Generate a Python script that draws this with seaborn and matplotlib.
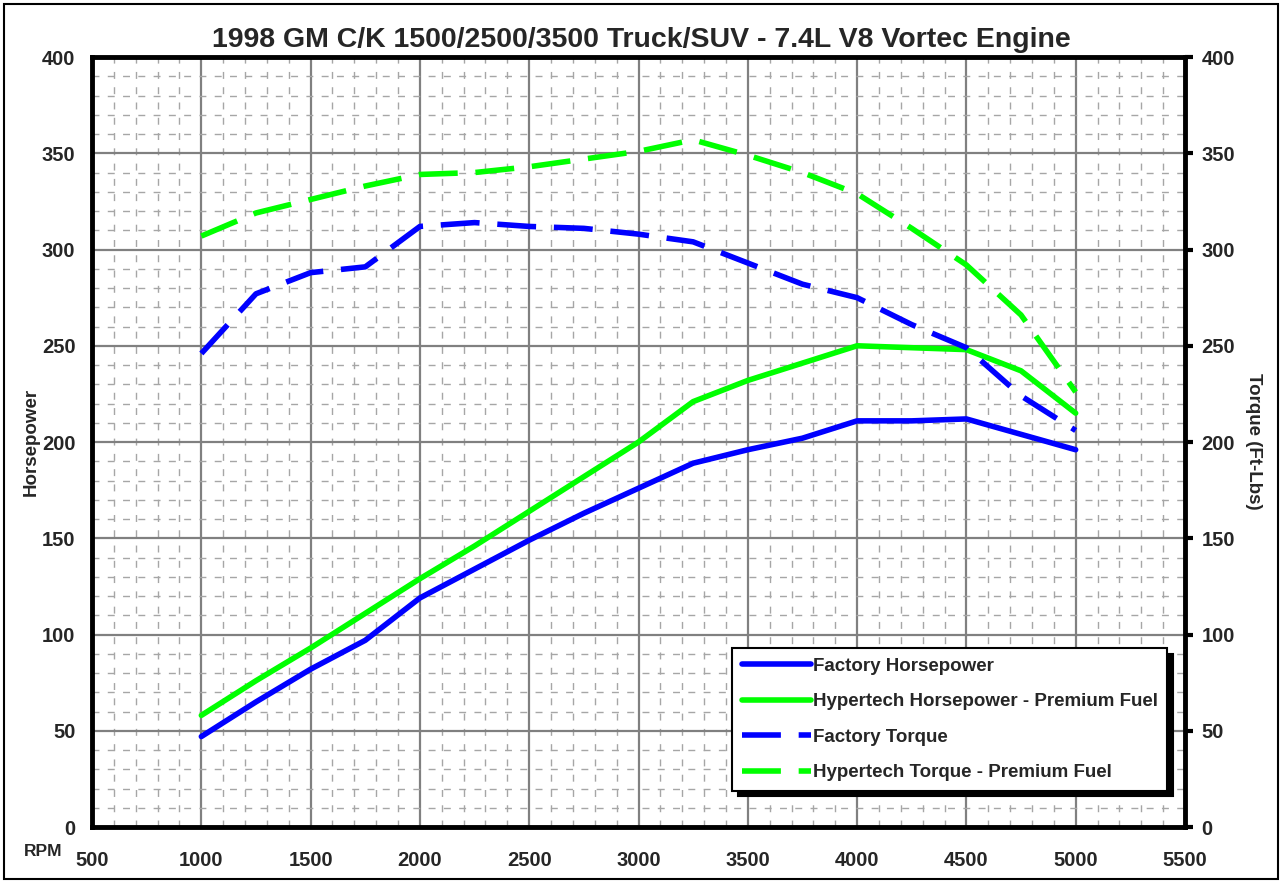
import pandas as pd
import matplotlib.pyplot as plt
import seaborn as sns
from matplotlib.ticker import MultipleLocator
from matplotlib.patches import Rectangle

# Данные
rpm = [1000, 1250, 1500, 1750, 2000, 2250, 2500, 2750, 3000,
       3250, 3500, 3750, 4000, 4250, 4500, 4750, 5000]
factory_hp = [47, 65, 82, 97, 119, 134, 149, 163, 176,
              189, 196, 202, 211, 211, 212, 204, 196]
hypertech_hp = [58, 76, 93, 111, 129, 146, 164, 182, 200,
                221, 232, 241, 250, 249, 248, 237, 215]
factory_tq = [246, 277, 288, 291, 312, 314, 312, 311, 308,
              304, 293, 282, 275, 261, 249, 224, 206]
hypertech_tq = [307, 319, 326, 333, 339, 340, 343, 347, 351,
                357, 349, 340, 329, 311, 292, 266, 226]

series_names = ['Factory Horsepower', 'Hypertech Horsepower - Premium Fuel',
                'Factory Torque', 'Hypertech Torque - Premium Fuel']
x_ticks = [500, 1000, 1500, 2000, 2500, 3000, 3500, 4000, 4500, 5000, 5500]
y_ticks = [0, 50, 100, 150, 200, 250, 300, 350, 400]

df = pd.concat([
    pd.DataFrame({'rpm': rpm, 'value': vals, 'series': name})
    for name, vals in zip(series_names, [factory_hp, hypertech_hp, factory_tq, hypertech_tq])
])

sns.set_style('white')
plt.rcParams['font.family'] = ['Liberation Sans', 'DejaVu Sans']
plt.rcParams['font.weight'] = 'bold'

fig = plt.figure(figsize=(12.82, 8.83), dpi=100)
ax = fig.add_axes([0.0718, 0.0634, 0.8525, 0.872])

palette = {series_names[0]: '#0000ff', series_names[1]: '#00ff00',
           series_names[2]: '#0000ff', series_names[3]: '#00ff00'}
dashes = {series_names[0]: '', series_names[1]: '',
          series_names[2]: (7, 3.2), series_names[3]: (7, 3.2)}

sns.lineplot(data=df, x='rpm', y='value', hue='series', style='series',
             palette=palette, dashes=dashes, linewidth=4, ax=ax, legend=False,
             zorder=3)

# Оси и сетка
ax.set_xlim(500, 5500)
ax.set_ylim(0, 400)
ax.set_xticks(x_ticks)
ax.set_yticks(y_ticks)
ax.xaxis.set_minor_locator(MultipleLocator(100))
ax.yaxis.set_minor_locator(MultipleLocator(10))
ax.grid(which='major', color='#808080', lw=1.6, ls='-', zorder=1)
ax.grid(which='minor', color='#a6a6a6', lw=1.0, ls=(0, (5, 6)), zorder=0)
ax.set_axisbelow(True)
for s in ax.spines.values():
    s.set_color('black')
    s.set_linewidth(3.5)
ax.tick_params(which='major', direction='out', length=6, width=3, color='black',
               labelsize=14.5, right=True, labelright=True, pad=6)
ax.tick_params(axis='x', which='major', pad=11)
ax.tick_params(which='minor', length=0)
for lab in ax.get_xticklabels() + ax.get_yticklabels():
    lab.set_fontweight('bold')
for lab in ax.yaxis.get_ticklabels(which='major'):
    lab.set_fontweight('bold')
ax.set_xlabel('')
ax.set_ylabel('')

fig.text(0.024, 0.5, 'Horsepower', rotation=90, ha='center', va='center',
         fontsize=13.5, fontweight='bold')
fig.text(0.978, 0.5, 'Torque (Ft-Lbs)', rotation=-90, ha='center', va='center',
         fontsize=13.5, fontweight='bold')
fig.text(0.034, 0.036, 'RPM', ha='center', va='center', fontsize=12.5, fontweight='bold')
fig.text(0.5, 0.955, '1998 GM C/K 1500/2500/3500 Truck/SUV - 7.4L V8 Vortec Engine',
         ha='center', va='center', fontsize=20.5, fontweight='bold')

# Легенда
handles = [plt.Line2D([], [], color=palette[n], lw=4,
                      dashes=dashes[n] if dashes[n] else (None, None))
           for n in series_names]
leg = ax.legend(handles, series_names, loc='upper left', bbox_to_anchor=(0.586, 0.232),
                fontsize=13.5, frameon=True, fancybox=False, framealpha=1,
                edgecolor='black', handlelength=3.7, handletextpad=0.1,
                labelspacing=0.98, borderpad=0.5, borderaxespad=0,
                shadow={'color': 'black', 'alpha': 1, 'ox': 4, 'oy': -4})
leg.get_frame().set_linewidth(1.5)
for t in leg.get_texts():
    t.set_fontweight('bold')

# Рамка вокруг всего рисунка
fig.patches.append(Rectangle((0.003, 0.004), 0.994, 0.991, transform=fig.transFigure,
                             fill=False, edgecolor='black', lw=1.5))

fig.savefig('out.png', dpi=100)
